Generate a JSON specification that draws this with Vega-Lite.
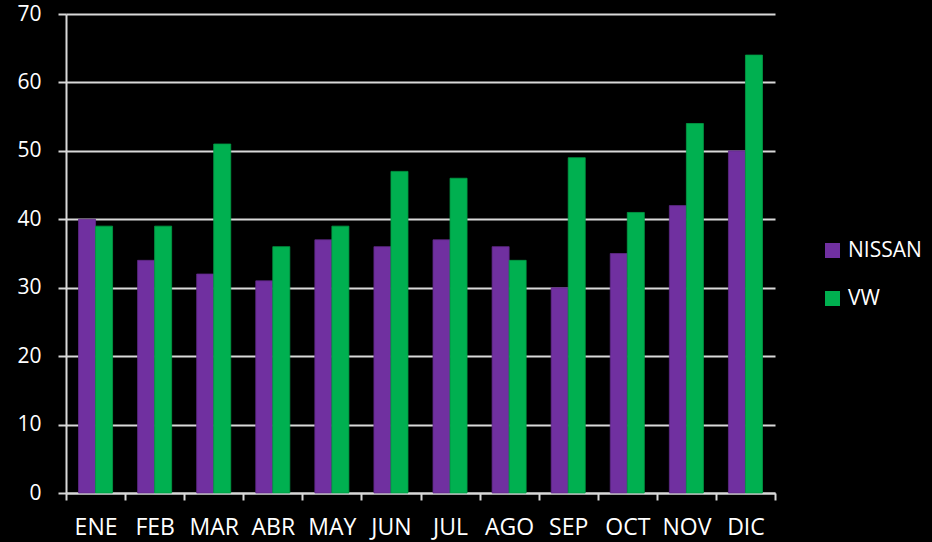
{
  "$schema": "https://vega.github.io/schema/vega-lite/v6.json",
  "autosize": "none",
  "width": 709,
  "height": 479,
  "padding": {"left": 66, "top": 14, "right": 157, "bottom": 49},
  "background": "#000000",
  "data": {"values": [
    {"mes": "ENE", "marca": "NISSAN", "valor": 40}, {"mes": "ENE", "marca": "VW", "valor": 39},
    {"mes": "FEB", "marca": "NISSAN", "valor": 34}, {"mes": "FEB", "marca": "VW", "valor": 39},
    {"mes": "MAR", "marca": "NISSAN", "valor": 32}, {"mes": "MAR", "marca": "VW", "valor": 51},
    {"mes": "ABR", "marca": "NISSAN", "valor": 31}, {"mes": "ABR", "marca": "VW", "valor": 36},
    {"mes": "MAY", "marca": "NISSAN", "valor": 37}, {"mes": "MAY", "marca": "VW", "valor": 39},
    {"mes": "JUN", "marca": "NISSAN", "valor": 36}, {"mes": "JUN", "marca": "VW", "valor": 47},
    {"mes": "JUL", "marca": "NISSAN", "valor": 37}, {"mes": "JUL", "marca": "VW", "valor": 46},
    {"mes": "AGO", "marca": "NISSAN", "valor": 36}, {"mes": "AGO", "marca": "VW", "valor": 34},
    {"mes": "SEP", "marca": "NISSAN", "valor": 30}, {"mes": "SEP", "marca": "VW", "valor": 49},
    {"mes": "OCT", "marca": "NISSAN", "valor": 35}, {"mes": "OCT", "marca": "VW", "valor": 41},
    {"mes": "NOV", "marca": "NISSAN", "valor": 42}, {"mes": "NOV", "marca": "VW", "valor": 54},
    {"mes": "DIC", "marca": "NISSAN", "valor": 50}, {"mes": "DIC", "marca": "VW", "valor": 64}
  ]},
  "mark": {"type": "bar", "strokeWidth": 0.8},
  "encoding": {
    "x": {
      "field": "mes", "type": "nominal", "sort": null,
      "scale": {"paddingInner": 0, "paddingOuter": 0},
      "axis": {
        "title": null, "labelAngle": 0, "tickBand": "extent",
        "domainColor": "#d9d9d9", "domainWidth": 2,
        "tickColor": "#d9d9d9", "tickWidth": 2, "tickSize": 7,
        "labelColor": "#ffffff", "labelFont": "Open Sans", "labelFontSize": 23,
        "labelPadding": 16, "grid": false
      }
    },
    "xOffset": {"field": "marca", "type": "nominal", "scale": {"paddingInner": 0, "paddingOuter": 0.735}},
    "y": {
      "field": "valor", "type": "quantitative",
      "scale": {"domain": [0, 70], "nice": false},
      "axis": {
        "title": null, "values": [0, 10, 20, 30, 40, 50, 60, 70],
        "domainColor": "#d9d9d9", "domainWidth": 2,
        "tickColor": "#d9d9d9", "tickWidth": 2, "tickSize": 8,
        "grid": true, "gridColor": "#d9d9d9", "gridWidth": 2, "gridOpacity": 1,
        "labelColor": "#ffffff", "labelFont": "Open Sans", "labelFontSize": 21,
        "labelPadding": 17
      }
    },
    "color": {
      "field": "marca", "type": "nominal",
      "scale": {"domain": ["NISSAN", "VW"], "range": ["#7030A0", "#00B050"]},
      "legend": {
        "title": null, "orient": "none", "legendX": 756, "legendY": 226,
        "symbolType": "square", "symbolSize": 225, "symbolStrokeWidth": 0,
        "labelColor": "#ffffff", "labelFont": "Open Sans", "labelFontSize": 21,
        "labelOffset": 5, "rowPadding": 26
      }
    },
    "stroke": {
      "field": "marca", "type": "nominal",
      "scale": {"domain": ["NISSAN", "VW"], "range": ["#5f2888", "#009a44"]},
      "legend": null
    }
  },
  "config": {"view": {"stroke": null}}
}
